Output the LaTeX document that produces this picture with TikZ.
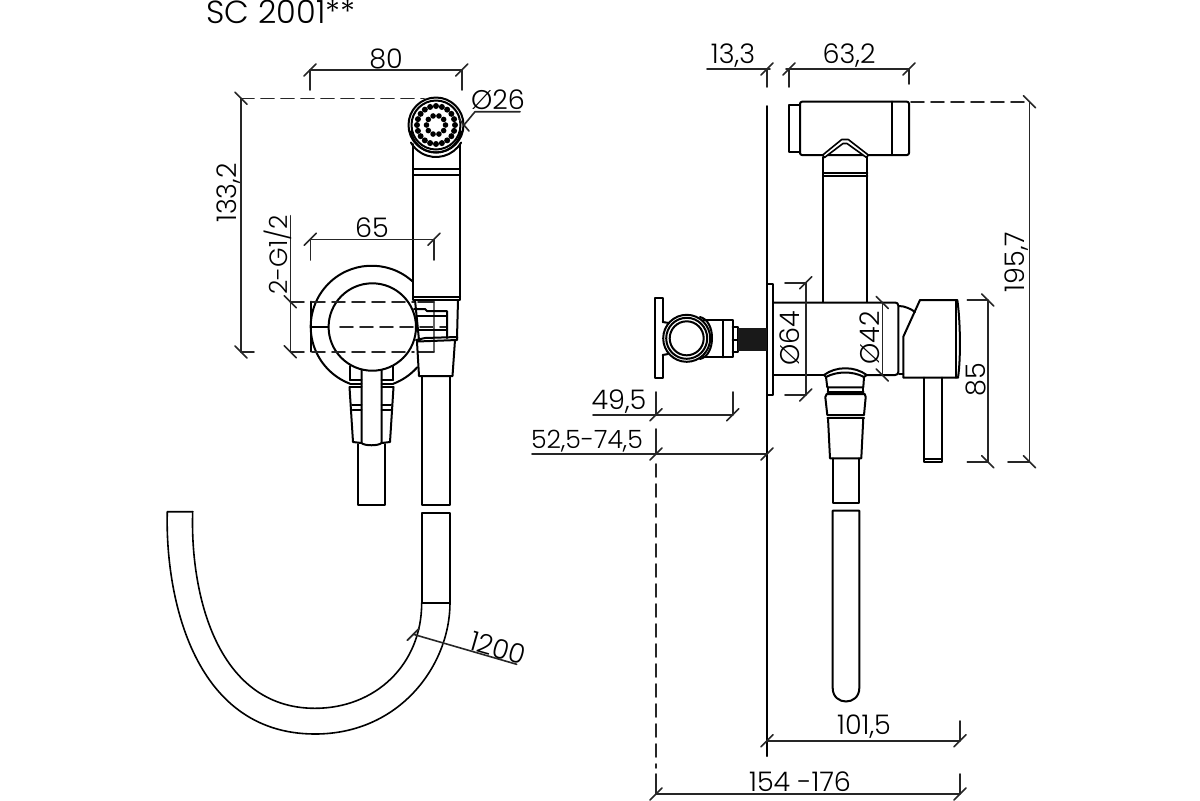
\documentclass[tikz,border=0pt]{standalone}
\usepackage{fontspec}
\setmainfont{Poppins Light}
\tikzset{
	part/.style={line width=1pt},
	dim/.style={line width=.8pt,black!85},
	brokenline/.style={line width=.8pt,black!85,dash pattern=on 6.5pt off 3.5pt},
	dimtext/.style={font=\fontsize{13.5}{14}\selectfont,inner sep=0pt,text=black}
}
\begin{document}
\begin{tikzpicture}[x=.5pt,y=-.5pt,line join=round,line cap=round]
		\useasboundingbox (0,0) rectangle (1200,800);
		\node[dimtext,font=\fontsize{16}{17}\selectfont] (title) at (281,12) {SC 2001**};
		% left view, hand shower
		\draw[part] (436,125) circle[radius=27.5];
		\draw[part] (436,125) circle[radius=24.5];
		\draw[part] (436,127)+(10:25.5) arc[start angle=10,end angle=170,radius=25.5];
		\draw[part] (436,128)+(30:29) arc[start angle=30,end angle=150,radius=29];
		\foreach \a in{0,18,...,350} \fill (436,125)+(\a:19) circle[radius=3];
		\foreach \a in{0,36,...,350} \fill (436,125)+(\a:9.5) circle[radius=2.8];
		\draw[part] (413,144)--(413,300)--(460,300)--(460,144);
		\draw[part] (413,169)--(460,169) (413,174.5)--(460,174.5) (413,297)--(460,297);
		% left view, valve body
		\draw[part] (371.7,326.7)+(-48:61) arc[start angle=-48,end angle=-249,radius=61];
		\draw[part] (371.7,326.7)+(69.6:61) arc[start angle=69.6,end angle=41.7,radius=61];
		\draw[part] (372.3,327) circle[radius=43.7];
		\draw[part] (310.5,301.7)--(310.5,351.7) (311,326.7)--(328,326.7);
		\draw[brokenline] (312,301.7)--(414,301.7) (312,351.7)--(414,351.7) (340,326.7)--(447,326.7);
		\draw[dim,black!60] (434,301.7)--(434,351.7);
		\draw[dim] (418,301.7)--(434,301.7) (418,351.7)--(434,351.7);
		% left view, hose holder
		\draw[part] (415,300)--(419,340) (458,300)--(457,338);
		\draw[part] (414,309)--(425,309)--(427,311)--(447,311)--(447,338);
		\draw[part] (416,316)--(447,316) (416,330)--(447,330);
		\draw[part] (416,340)--(425,338)--(457,337)--(457,340)--(417,341.5);
		\draw[part] (417,342)--(419,376)--(452.5,376)--(455,340);
		\draw[part] (421.5,376)--(421.5,505)--(450,505)--(450,376);
		% left view, lever
		\draw[part] (350,366)--(350,380) (393,366)--(393,380);
		\draw[part] (350,380)--(361.5,380) (381.5,380)--(393,380) (350,384)--(361.5,384) (381.5,384)--(393,384);
		\draw[part] (349.5,387)--(361.5,387) (381.5,387)--(393.5,387);
		\draw[part] (349.5,387)--(353,442)--(361.5,443) (393.5,387)--(390,442)--(381.5,443);
		\draw[part] (352,405)--(361.5,405) (381.5,405)--(391,405) (352.5,410)--(361.5,410) (381.5,410)--(390.5,410);
		\draw[part] (361.5,370)--(361.5,443)..controls +(3,3) and +(-3,3)..(381.5,443)--(381.5,370);
		\draw[part] (358,444)--(358,505)--(385.3,505)--(385.3,444);
		% hose
		\draw[part] (421.7,512.5)--(450,512.5)--(450,602.7)--(421.7,602.7)--cycle;
		\draw[part,line width=.8pt] (192.7,511.7)--(167.3,511.7)..controls (165,590) and (190,734)..(315,734)
		..controls (400,734) and (450,665)..(450,602.7);
		\draw[part,line width=.8pt] (192.7,511.7)..controls (190,590) and (215,708.3)..(315,708.3)
		..controls (375,708.3) and (421.7,665)..(421.7,602.7);
		% left view, dimensions
		\draw[dim] (310,90)--(310,70)coordinate(A)--(461.7,70)coordinate(B)--(461.7,90);
		\node[dimtext] (w80) at (386,59) {80};
		\draw[dim] (310.3,260)--(310.3,239.3)coordinate(C)--(434,239.3)coordinate(D)--(434,260);
		\node[dimtext] (w65) at (372,228) {65};
		\foreach \x in{A,B,C,D} \draw[dim] (\x)+(-6,6)--+(6,-6);
		\draw[dim] (241,352)coordinate(E)--(241,98.3)coordinate(F);
		\draw[brokenline] (F)--(424,98.3);
		\draw[dim] (E)--(254,352);
		\node[dimtext,rotate=90] (h133) at (229,193) {133,2};
		\draw[dim] (290.3,215.7)--(290.3,351.7)coordinate(G)--(304,351.7);
		\draw[dim] (290.3,301.7)coordinate(H)--(304,301.7);
		\node[dimtext,rotate=90,font=\fontsize{12.5}{13}\selectfont] (thread) at (278,255) {2-G1/2};
		\foreach \x in{E,F,G,H} \draw[dim] (\x)+(-6,-6)--+(6,6);
		\draw[dim] (520,111.7)--(475,111.7)--(464,125)coordinate(J);
		\draw[dim] (J)+(-5,-6)--+(5,6);
		\node[dimtext] (d26) at (498,100) {Ø26};
		\draw[dim] (516.7,664.3)--(413.3,634.3)coordinate(K);
		\draw[dim] (K)+(-6,6)--+(6,-6);
		\node[dimtext,rotate=-16] (len) at (498,648) {1200};
		% right view, wall and plate
		\draw[part] (767,106)--(767,756);
		\draw[part] (767.7,284)--(773,284)--(773,395)--(767.7,395);
		% right view, hand shower
		\draw[part,rounded corners=1pt] (800,101.7)rectangle(909,155);
		\draw[part] (891.7,101.7)--(891.7,155);
		\draw[part] (800,105)--(788.7,105)--(788.7,152)--(800,152);
		\draw[part,line width=.8pt,fill=white] (822.7,155)--(841.7,139.5)--(848.3,139.5)--(868.3,155)--(866.5,157.5)--(847,143.5)--(843,143.5)--(824.5,157.5)--cycle;
		\draw[part] (823.3,157)--(823.3,302) (867.3,157)--(867.3,302);
		\draw[part] (823.3,172.7)--(867.3,172.7) (823.3,176.3)--(867.3,176.3);
		% right view, valve body
		\draw[part,rounded corners=1.5pt] (773,302.5)--(898.3,302.5)--(898.3,375)--(866.7,375);
		\draw[part] (824.3,375)--(773,375);
		\draw[part] (899,306)..controls +(6,0) and +(-4,-3)..(915,312);
		\draw[part] (899,374)--(903.3,374);
		\draw[part] (920,300)--(957.3,300)..controls +(3,20) and +(3,-20)..(958,377.7)--(903.3,377.7)--(903.3,336.7)--cycle;
		\draw[part] (956,300)--(956,377.7);
		\draw[part] (924,377.7)--(924,461.7)--(942,461.7)--(942,377.7);
		\draw[part] (924,459)--(942,459);
		% right view, outlet
		\draw[part] (824,375)..controls +(12,-9) and +(-12,-9)..(866.7,375);
		\draw[part] (826,377)..controls +(11,-6) and +(-11,-6)..(864,377);
		\draw[part] (824,375)--(826,377)--(827.3,387.3)--(863.3,387.3)--(864,377)--(866.7,375);
		\draw[part] (827.5,392.3)--(863.5,392.3) (828,387.3)--(828,392.3) (863.3,387.3)--(863.3,392.3);
		\draw[part] (826.7,394)--(864.7,394)--(865.7,397)--(864,415)--(827.3,415)--(825.3,397)--cycle;
		\draw[part] (827.3,417.5)--(864,417.5);
		\draw[part] (828,418)--(830,458.3)--(861.3,458.3)--(863.3,418);
		\draw[part] (832.7,458.3)--(832.7,503.3)--(859,503.3)--(859,458.3);
		\draw[part] (832.7,510.7)--(859.3,510.7)--(859.3,688)..controls +(0,18) and +(0,18)..(832.7,688)--cycle;
		% right view, wall bracket
		\draw[part] (662.7,322)--(662.7,298.3)--(655.3,298.3)--(655.3,378.3)--(662.7,378.3)--(662.7,355);
		\draw[part] (662.7,322)--(669,323) (662.7,355)--(668,354);
		\draw[part] (686.7,338.3) circle[radius=23.5];
		\draw[part] (686.7,338.3) circle[radius=20.5];
		\draw[part] (686.7,338.3) circle[radius=17];
		\draw[part] (700,317)..controls +(8,2) and +(0,-10)..(712,338)..controls +(0,10) and +(8,-2)..(700,359);
		\draw[part] (703,320)--(732.7,320)--(732.7,357.3)--(703,357.3);
		\draw[part] (722.7,320)--(722.7,357.3);
		\draw[part] (732.7,327.3)--(737.7,327.3)--(737.7,351.7)--(732.7,351.7) (732.7,339.5)--(737.7,339.5);
		\fill[black!90] (737.7,328.3) rectangle (767,350.7);
		% right view, dimensions
		\draw[dim] (707,69)--(770,69) (786,69)--(909,69);
		\draw[dim] (767,87)--(767,69)coordinate(L);
		\draw[dim] (789,87)--(789,69)coordinate(M);
		\draw[dim] (909,84)--(909,69)coordinate(N);
		\node[dimtext] (t133) at (733,56) {13,3};
		\node[dimtext] (t632) at (849,56) {63,2};
		\draw[dim] (656,392)--(656,414.7)coordinate(P);
		\draw[dim] (732.7,392)--(732.7,414.7)coordinate(Q);
		\draw[dim] (593,414.7)--(732.7,414.7);
		\node[dimtext] (t495) at (619,402) {49,5};
		\draw[dim] (656,429)--(656,454)coordinate(R);
		\draw[dim] (532,454)--(767,454)coordinate(S);
		\draw[brokenline] (656,464)--(656,768);
		\node[dimtext,font=\fontsize{12.6}{13}\selectfont] (t525) at (587,441) {52,5-74,5};
		\draw[dim] (767,740.7)coordinate(T)--(960,740.7)coordinate(U)--(960,721);
		\node[dimtext] (t1015) at (864,727) {101,5};
		\draw[dim] (656,774)--(656,794)coordinate(V)--(960,794)coordinate(W)--(960,774);
		\node[dimtext] (t154) at (800,782) {154 -176};
		\foreach \x in{L,M,N,P,Q,R,S,T,U,V,W} \draw[dim] (\x)+(-6,6)--+(6,-6);
		\draw[dim] (785,282.7)--(805.7,282.7)coordinate(a)--(805.7,395)coordinate(b)--(785,395);
		\node[dimtext,rotate=90] (d64) at (790,338) {Ø64};
		\foreach \x in{a,b} \draw[dim] (\x)+(-6,6)--+(6,-6);
		\draw[dim] (882.3,302.5)coordinate(c)--(882.3,375)coordinate(d);
		\node[dimtext,rotate=90] (d42) at (870,338) {Ø42};
		\foreach \x in{c,d} \draw[dim] (\x)+(-6,-6)--+(6,6);
		\draw[dim] (967.3,300)--(987.7,300)coordinate(e)--(987.7,461.7)coordinate(f)--(967.3,461.7);
		\node[dimtext,rotate=90] (h85) at (976,380) {85};
		\draw[brokenline] (911,101.7)--(1029.5,101.7)coordinate(g);
		\draw[dim] (g)--(1029.5,461.7)coordinate(h)--(1008,461.7);
		\node[dimtext,rotate=90] (h195) at (1017,262) {195,7};
		\foreach \x in{e,f,g,h} \draw[dim] (\x)+(-6,-6)--+(6,6);
		\end{tikzpicture}
\end{document}
